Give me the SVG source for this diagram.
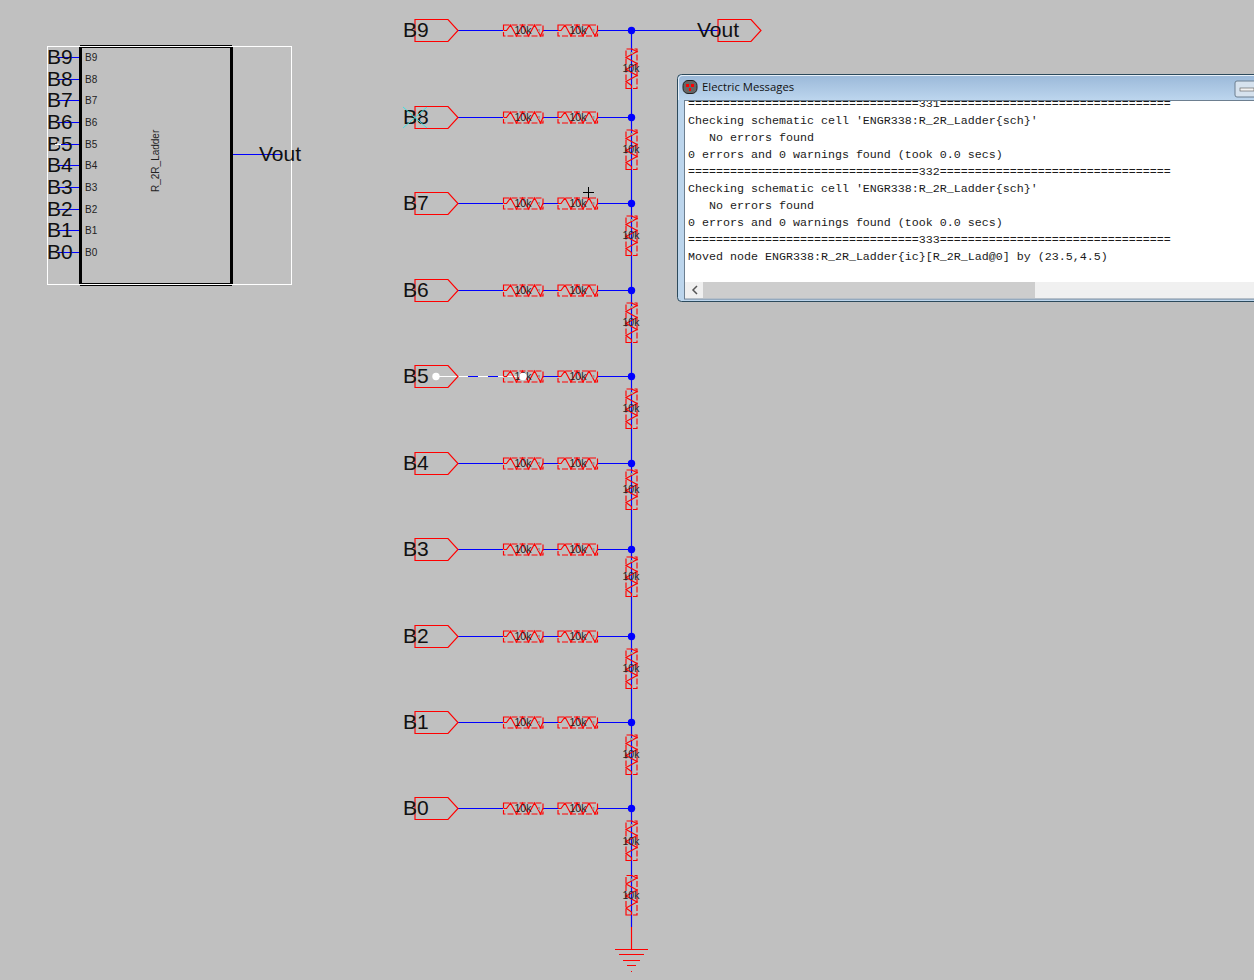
<svg xmlns="http://www.w3.org/2000/svg" width="1254" height="980" viewBox="0 0 1254 980">
<style>
.w{stroke:#0000ff;stroke-width:1.2;fill:none}
.r{stroke:#ff0000;stroke-width:1.150;fill:none}
.rd{stroke:#ff0000;stroke-width:1.150;fill:none;stroke-dasharray:6 2}
.big{font-family:"Liberation Sans",Arial,sans-serif;font-size:21px;fill:#111}
.pin{font-family:"Liberation Sans",Arial,sans-serif;font-size:10px;fill:#222}
.val{font-family:"Liberation Sans",Arial,sans-serif;font-size:10.500px;fill:#222;text-anchor:middle}
.mono{font-family:"Liberation Mono","Courier New",monospace;font-size:11.67px;fill:#1a1a1a}
</style>
<defs>
<linearGradient id="tb" x1="0" y1="0" x2="0" y2="1"><stop offset="0" stop-color="#9bb9d9"/><stop offset="1" stop-color="#bdd6ee"/></linearGradient>
<g id="res">
<rect class="rd" x="0" y="-5.500" width="39.500" height="11"/>
<path class="r" d="M0 0L3 0L7 -5.500L13 5.500L19 -5.500L25 5.500L31 -5.500L37 5.500L39.500 0"/>
<path d="M34.500 -1.500H36.500V1.500H34.500Z" fill="#999"/>
</g>
<g id="port">
<path class="r" d="M0 -11H33L43 0L33 11H0Z"/>
</g>
</defs>
<rect id="bg" width="1254" height="980" fill="#c0c0c0"/>
<g id="connectors">
<path class="w" d="M631.500 30V927M631.500 30.500H718"/>
<path class="w" d="M458 30.500H503M543 30.500H558M597 30.500H631M458 117.500H503M543 117.500H558M597 117.500H631M458 203.500H503M543 203.500H558M597 203.500H631M458 290.500H503M543 290.500H558M597 290.500H631M543 376.500H558M597 376.500H631M458 463.500H503M543 463.500H558M597 463.500H631M458 549.500H503M543 549.500H558M597 549.500H631M458 636.500H503M543 636.500H558M597 636.500H631M458 722.500H503M543 722.500H558M597 722.500H631M458 808.500H503M543 808.500H558M597 808.500H631"/>
<path d="M436 376.500H523" stroke="#fff" stroke-width="1.200"/>
<path class="w" d="M468 376.500H478M488 376.500H498"/>
<path class="w" d="M58 57.500H80M58 79.500H80M58 100.500H80M58 122.500H80M58 144.500H80M58 165.500H80M58 187.500H80M58 209.500H80M58 230.500H80M58 252.500H80M232 154.500H281"/>
<path class="r" d="M631.500 927V949"/>
</g>
<g id="icon-R_2R_Ladder">
<rect x="47.500" y="46.500" width="244" height="238" fill="none" stroke="#fff"/>
<path d="M80 45.500H232M80 285.500H232M80 47.500H232M80 283.500H232" stroke="#000" stroke-width="1"/>
<path d="M80.500 47V284M231.500 47V284" stroke="#000" stroke-width="3"/>
<text class="pin" x="85" y="61">B9</text><text class="pin" x="85" y="83">B8</text><text class="pin" x="85" y="104">B7</text><text class="pin" x="85" y="126">B6</text><text class="pin" x="85" y="148">B5</text><text class="pin" x="85" y="169">B4</text><text class="pin" x="85" y="191">B3</text><text class="pin" x="85" y="213">B2</text><text class="pin" x="85" y="234">B1</text><text class="pin" x="85" y="256">B0</text>
<text class="big" x="47" y="64">B9</text><text class="big" x="47" y="86">B8</text><text class="big" x="47" y="107">B7</text><text class="big" x="47" y="129">B6</text><text class="big" x="47" y="151">B5</text><text class="big" x="47" y="172">B4</text><text class="big" x="47" y="194">B3</text><text class="big" x="47" y="216">B2</text><text class="big" x="47" y="237">B1</text><text class="big" x="47" y="259">B0</text>
<text class="big" x="259" y="161">Vout</text>
<text class="pin" transform="translate(159 192) rotate(-90)">R_2R_Ladder</text>
<path d="M55 144.500H61M58 141V148" stroke="#fff"/>
</g>
<g id="port-B9"><use href="#port" x="415" y="30.500"/><text class="big" x="403" y="37">B9</text></g>
<g id="port-B8"><use href="#port" x="415" y="117.500"/><text class="big" x="403" y="124">B8</text><path d="M403 107L427 128M403 128L427 107" stroke="#40e0e0"/></g>
<g id="port-B7"><use href="#port" x="415" y="203.500"/><text class="big" x="403" y="210">B7</text></g>
<g id="port-B6"><use href="#port" x="415" y="290.500"/><text class="big" x="403" y="297">B6</text></g>
<g id="port-B5"><use href="#port" x="415" y="376.500"/><text class="big" x="403" y="383">B5</text></g>
<g id="port-B4"><use href="#port" x="415" y="463.500"/><text class="big" x="403" y="470">B4</text></g>
<g id="port-B3"><use href="#port" x="415" y="549.500"/><text class="big" x="403" y="556">B3</text></g>
<g id="port-B2"><use href="#port" x="415" y="636.500"/><text class="big" x="403" y="643">B2</text></g>
<g id="port-B1"><use href="#port" x="415" y="722.500"/><text class="big" x="403" y="729">B1</text></g>
<g id="port-B0"><use href="#port" x="415" y="808.500"/><text class="big" x="403" y="815">B0</text></g>
<g id="port-Vout"><use href="#port" x="718" y="30.500"/><text class="big" x="697" y="37">Vout</text></g>
<g id="series-resistors">
<use href="#res" x="503.500" y="30.500"/><use href="#res" x="558" y="30.500"/><text class="val" x="523" y="34">10k</text><text class="val" x="578" y="34">10k</text>
<use href="#res" x="503.500" y="117.500"/><use href="#res" x="558" y="117.500"/><text class="val" x="523" y="121">10k</text><text class="val" x="578" y="121">10k</text>
<use href="#res" x="503.500" y="203.500"/><use href="#res" x="558" y="203.500"/><text class="val" x="523" y="207">10k</text><text class="val" x="578" y="207">10k</text>
<use href="#res" x="503.500" y="290.500"/><use href="#res" x="558" y="290.500"/><text class="val" x="523" y="294">10k</text><text class="val" x="578" y="294">10k</text>
<use href="#res" x="503.500" y="376.500"/><use href="#res" x="558" y="376.500"/><text class="val" x="523" y="380">10k</text><text class="val" x="578" y="380">10k</text>
<use href="#res" x="503.500" y="463.500"/><use href="#res" x="558" y="463.500"/><text class="val" x="523" y="467">10k</text><text class="val" x="578" y="467">10k</text>
<use href="#res" x="503.500" y="549.500"/><use href="#res" x="558" y="549.500"/><text class="val" x="523" y="553">10k</text><text class="val" x="578" y="553">10k</text>
<use href="#res" x="503.500" y="636.500"/><use href="#res" x="558" y="636.500"/><text class="val" x="523" y="640">10k</text><text class="val" x="578" y="640">10k</text>
<use href="#res" x="503.500" y="722.500"/><use href="#res" x="558" y="722.500"/><text class="val" x="523" y="726">10k</text><text class="val" x="578" y="726">10k</text>
<use href="#res" x="503.500" y="808.500"/><use href="#res" x="558" y="808.500"/><text class="val" x="523" y="812">10k</text><text class="val" x="578" y="812">10k</text>
</g>
<g id="ladder-resistors">
<use href="#res" transform="translate(631.500 88.500) rotate(-90)"/><text class="val" x="631" y="72">10k</text>
<use href="#res" transform="translate(631.500 169.500) rotate(-90)"/><text class="val" x="631" y="153">10k</text>
<use href="#res" transform="translate(631.500 255.500) rotate(-90)"/><text class="val" x="631" y="239">10k</text>
<use href="#res" transform="translate(631.500 342.500) rotate(-90)"/><text class="val" x="631" y="326">10k</text>
<use href="#res" transform="translate(631.500 428.500) rotate(-90)"/><text class="val" x="631" y="412">10k</text>
<use href="#res" transform="translate(631.500 509.500) rotate(-90)"/><text class="val" x="631" y="493">10k</text>
<use href="#res" transform="translate(631.500 596.500) rotate(-90)"/><text class="val" x="631" y="580">10k</text>
<use href="#res" transform="translate(631.500 688.500) rotate(-90)"/><text class="val" x="631" y="672">10k</text>
<use href="#res" transform="translate(631.500 774.500) rotate(-90)"/><text class="val" x="631" y="758">10k</text>
<use href="#res" transform="translate(631.500 860.500) rotate(-90)"/><text class="val" x="631" y="845">10k</text>
<use href="#res" transform="translate(631.500 915) rotate(-90)"/><text class="val" x="631" y="899">10k</text>
</g>
<g id="junctions" fill="#0000ff">
<circle cx="631.500" cy="30.500" r="3.700"/><circle cx="631.500" cy="117.500" r="3.700"/><circle cx="631.500" cy="203.500" r="3.700"/><circle cx="631.500" cy="290.500" r="3.700"/><circle cx="631.500" cy="376.500" r="3.700"/><circle cx="631.500" cy="463.500" r="3.700"/><circle cx="631.500" cy="549.500" r="3.700"/><circle cx="631.500" cy="636.500" r="3.700"/><circle cx="631.500" cy="722.500" r="3.700"/><circle cx="631.500" cy="808.500" r="3.700"/>
</g>
<g id="selection" fill="#fff"><circle cx="436" cy="376.500" r="3.700"/><circle cx="523" cy="376.500" r="3.700"/></g>
<path id="cursor" d="M583 192.500H594M588.500 187V198" stroke="#000"/>
<g id="ground"><path class="r" d="M615 949.500H648M619 954.500H644M623 960.500H640M627 965.500H636M631 971.500H632"/></g>
<g id="messages-window">
<rect x="677.500" y="74.500" width="590" height="227" rx="4" fill="#bcd5ec" stroke="#2c4a5c"/>
<rect x="678.500" y="75.500" width="588" height="25" rx="3" fill="url(#tb)"/>
<path d="M678.500 100V80Q678.500 75.500 683 75.500H1254" fill="none" stroke="#e8f0f8"/>
<rect x="684.500" y="100.500" width="580" height="198.500" fill="#fff" stroke="#6d7f90"/>
<rect x="1235" y="81" width="30" height="16" rx="2" fill="#d6e2ee" stroke="#6d7f90"/>
<rect x="1240" y="88" width="14" height="3" fill="#f2f2f2" stroke="#555" stroke-width=".6"/>
<rect x="683" y="80.500" width="14" height="13" rx="5" fill="#666" stroke="#222"/>
<path d="M686 84h3v3h-3zM691 84h3v3h-3zM689 88h2v3h-2z" fill="#f00"/>
<text x="702" y="91" font-family="'Open Sans','Noto Sans',sans-serif" font-size="11.300px" fill="#111">Electric Messages</text>
<svg x="685" y="101" width="569" height="198">
<g class="mono">
<text x="3" y="6" class="mono">=================================331=================================</text>
<text x="3" y="23" class="mono">Checking schematic cell 'ENGR338:R_2R_Ladder{sch}'</text>
<text x="3" y="40" class="mono" xml:space="preserve">   No errors found</text>
<text x="3" y="57" class="mono">0 errors and 0 warnings found (took 0.0 secs)</text>
<text x="3" y="74" class="mono">=================================332=================================</text>
<text x="3" y="91" class="mono">Checking schematic cell 'ENGR338:R_2R_Ladder{sch}'</text>
<text x="3" y="108" class="mono" xml:space="preserve">   No errors found</text>
<text x="3" y="125" class="mono">0 errors and 0 warnings found (took 0.0 secs)</text>
<text x="3" y="142" class="mono">=================================333=================================</text>
<text x="3" y="159" class="mono">Moved node ENGR338:R_2R_Ladder{ic}[R_2R_Lad@0] by (23.5,4.5)</text>
</g>
<rect x="0" y="181" width="569" height="16" fill="#f0f0f0"/>
<rect x="18" y="181" width="332" height="16" fill="#cdcdcd"/>
<path d="M12 185L8 189L12 193" fill="none" stroke="#555" stroke-width="1.500"/>
</svg>
</g>
</svg>
